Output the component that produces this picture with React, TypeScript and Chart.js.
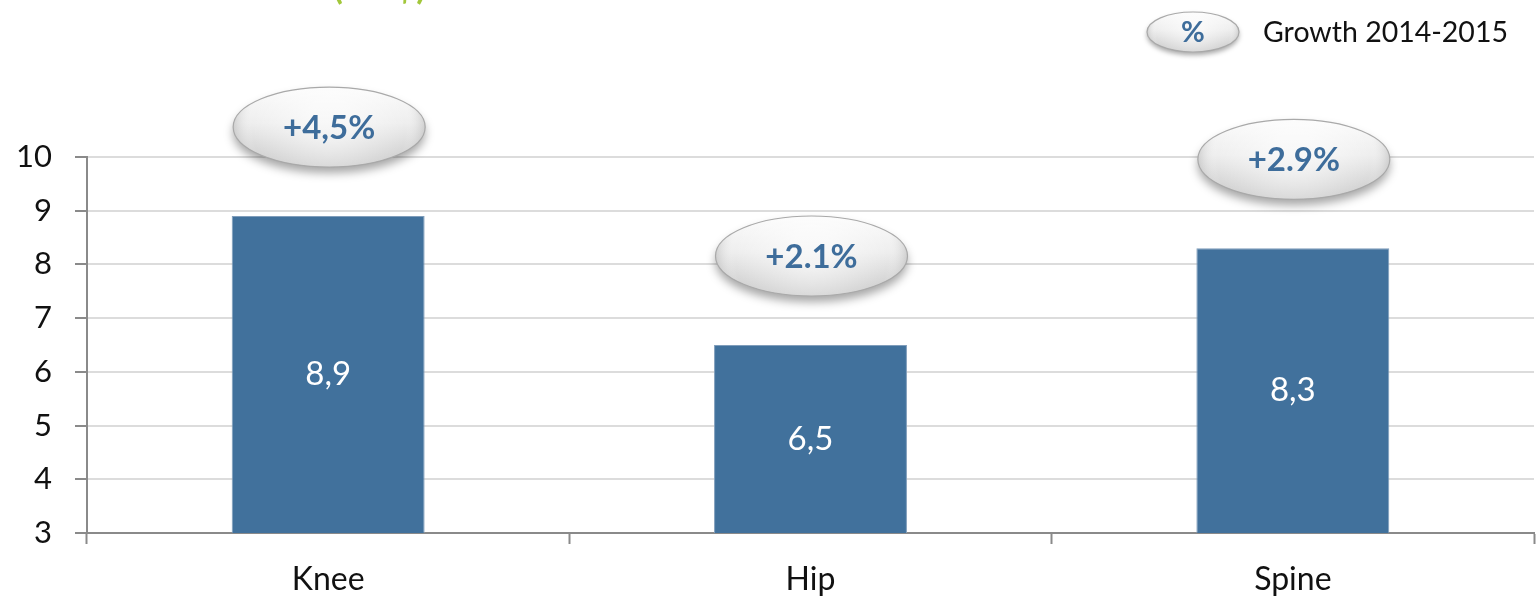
import React, { useEffect, useRef } from "react";
import { Chart, registerables } from "chart.js";

Chart.register(...registerables);

const categories = ["Knee", "Hip", "Spine"];
const values = [8.9, 6.5, 8.3];
const valueLabels = ["8,9", "6,5", "8,3"];
const growthLabels = ["+4,5%", "+2.1%", "+2.9%"];
const yTicks = [3, 4, 5, 6, 7, 8, 9, 10];

const FONT = "Lato, 'Open Sans', sans-serif";
const BAR_BLUE = "#41719c";
const TEXT_BLUE = "#3e6d9b";
const AXIS_GREY = "#8a8a8a";
const GRID_GREY = "#dcdcdc";

function drawPill(ctx: CanvasRenderingContext2D, cx: number, cy: number, rx: number, ry: number) {
  ctx.save();
  ctx.beginPath();
  ctx.ellipse(cx, cy, rx, ry, 0, 0, Math.PI * 2);
  ctx.shadowColor = "rgba(0,0,0,0.35)";
  ctx.shadowBlur = ry * 0.25;
  ctx.shadowOffsetY = ry * 0.15;
  const g = ctx.createLinearGradient(0, cy - ry, 0, cy + ry);
  g.addColorStop(0, "#fbfbfb");
  g.addColorStop(0.45, "#eeeeee");
  g.addColorStop(1, "#c9c9c9");
  ctx.fillStyle = g;
  ctx.fill();
  ctx.restore();

  ctx.save();
  ctx.beginPath();
  ctx.ellipse(cx, cy, rx, ry, 0, 0, Math.PI * 2);
  const rg = ctx.createRadialGradient(cx, cy - ry * 0.2, rx * 0.2, cx, cy, rx);
  rg.addColorStop(0, "rgba(255,255,255,0.55)");
  rg.addColorStop(0.75, "rgba(255,255,255,0)");
  rg.addColorStop(1, "rgba(150,150,150,0.35)");
  ctx.fillStyle = rg;
  ctx.fill();
  ctx.lineWidth = 1.2;
  ctx.strokeStyle = "#a9a9a9";
  ctx.stroke();
  ctx.restore();
}

const annotationPlugin = {
  id: "growthBubbles",
  afterDatasetsDraw(chart: any) {
    const ctx: CanvasRenderingContext2D = chart.ctx;
    const meta = chart.getDatasetMeta(0);
    const floor = chart.chartArea.bottom;
    meta.data.forEach((bar: any, i: number) => {
      // value centred inside the visible part of the bar
      const mid = (bar.y + Math.min(bar.base, floor)) / 2;
      ctx.save();
      ctx.fillStyle = "#ffffff";
      ctx.font = `33px ${FONT}`;
      ctx.textAlign = "center";
      ctx.textBaseline = "middle";
      ctx.fillText(valueLabels[i], bar.x, mid);
      ctx.restore();

      // growth bubble above the bar
      const cy = bar.y - 89;
      drawPill(ctx, bar.x + 1, cy, 96, 40);
      ctx.save();
      ctx.fillStyle = TEXT_BLUE;
      ctx.font = `bold 33px ${FONT}`;
      ctx.textAlign = "center";
      ctx.textBaseline = "middle";
      ctx.fillText(growthLabels[i], bar.x + 1, cy + 1);
      ctx.restore();
    });

    // legend
    drawPill(ctx, 1193, 32, 46, 20);
    ctx.save();
    ctx.fillStyle = TEXT_BLUE;
    ctx.font = `bold 29px ${FONT}`;
    ctx.textAlign = "center";
    ctx.textBaseline = "middle";
    ctx.fillText("%", 1193, 33);
    ctx.fillStyle = "#111111";
    ctx.font = `28.5px ${FONT}`;
    ctx.textAlign = "left";
    ctx.fillText("Growth 2014-2015", 1263, 33);
    ctx.restore();

    // heading (runs off the top edge)
    ctx.save();
    ctx.fillStyle = "#a2c73b";
    ctx.font = `bold 36px ${FONT}`;
    ctx.textAlign = "left";
    ctx.textBaseline = "alphabetic";
    ctx.fillText("(Bn $)", 333, -1);
    ctx.restore();
  },
};

export default function App() {
  const ref = useRef<HTMLCanvasElement | null>(null);

  useEffect(() => {
    if (!ref.current) return;
    const chart = new Chart(ref.current, {
      type: "bar",
      data: {
        labels: categories,
        datasets: [
          {
            data: values,
            backgroundColor: BAR_BLUE,
            borderColor: "#7f9dbb",
            borderWidth: { left: 1, right: 1, top: 1, bottom: 0 },
            categoryPercentage: 0.4,
            barPercentage: 1,
          },
        ],
      },
      options: {
        animation: false,
        responsive: false,
        maintainAspectRatio: false,
        layout: { padding: { top: 157, right: 6, left: 0, bottom: 0 } },
        plugins: { legend: { display: false }, tooltip: { enabled: false } },
        scales: {
          x: {
            afterFit: (s: any) => {
              s.height = 66;
            },
            grid: {
              offset: true,
              drawOnChartArea: false,
              tickLength: 11,
              tickColor: AXIS_GREY,
              tickWidth: 2,
            },
            border: { color: AXIS_GREY, width: 2 },
            ticks: {
              color: "#111111",
              font: { family: FONT, size: 32 },
              padding: 16,
            },
          },
          y: {
            min: 3,
            max: 10,
            afterFit: (s: any) => {
              s.width = 87;
            },
            afterBuildTicks: (s: any) => {
              s.ticks = yTicks.map((v) => ({ value: v }));
            },
            grid: {
              color: GRID_GREY,
              lineWidth: 2,
              tickLength: 12,
              tickColor: AXIS_GREY,
              tickWidth: 2,
            },
            border: { color: AXIS_GREY, width: 2 },
            ticks: {
              color: "#111111",
              font: { family: FONT, size: 31 },
              padding: 23,
            },
          },
        },
      },
      plugins: [annotationPlugin],
    });
    return () => chart.destroy();
  }, []);

  return (
    <div style={{ position: "fixed", left: 0, top: 0, width: 1540, height: 599, background: "#fff" }}>
      <canvas ref={ref} width={1540} height={599} style={{ display: "block" }} />
    </div>
  );
}
